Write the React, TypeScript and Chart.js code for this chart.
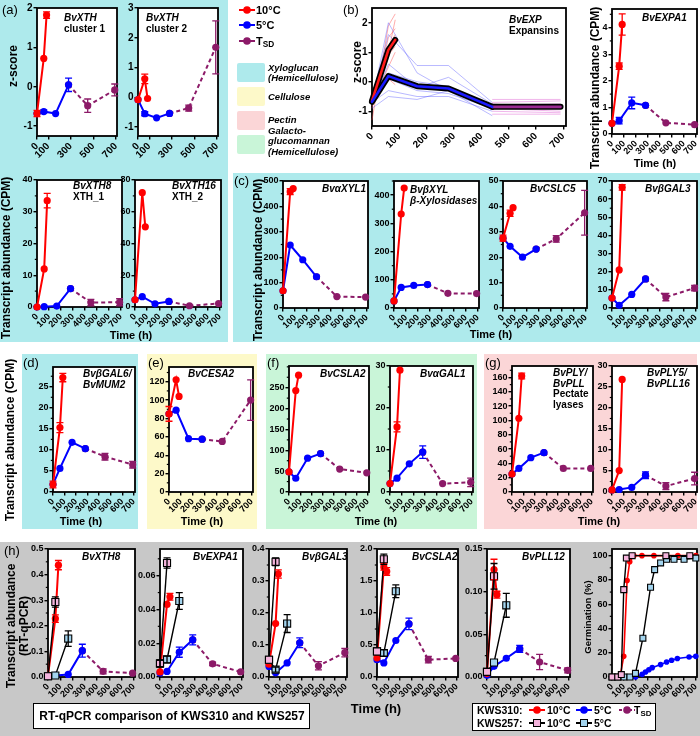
import React, { useEffect, useRef } from "react";
import { Chart, registerables } from "chart.js";
Chart.register(...registerables);

const FONT = '"Liberation Sans", Arial, Helvetica, sans-serif';
const CYAN = "#aeeaec", YEL = "#fdf9c9", GRN = "#c9f5d8", PNK = "#fbd6d7", GRY = "#c8c8c8";
const RED = "#ff0000", BLUE = "#0000ff", TSDC = "#8c1a68", PINKSQ = "#f4b4dc", LBSQ = "#a3d4ee";

// ---------- time points (h)
const T10 = [0, 60, 85];
const T5 = [0, 60, 165, 280];
const TSD = [280, 450, 690];
const K10 = [0, 60];
const K5 = [0, 60, 165];
const TB5 = [0, 60, 165, 280, 440];
const TBSD = [440, 690];

// ---------- tick labels
const XT = [0, 100, 200, 300, 400, 500, 600, 700];
const XT_A = [0, 100, 300, 500, 700];

// ---------- (a) z-scores
const a1R = [-0.68, 0.72, 1.82], a1Re = [0.08, 0, 0.08];
const a1B = [-0.68, -0.63, -0.68, 0.05], a1Be = [0, 0.04, 0, 0.17];
const a1S = [0.05, -0.48, -0.08], a1Se = [0, 0.17, 0.15];
const a2R = [-0.08, 0.62, -0.04], a2Re = [0, 0.16, 0];
const a2B = [-0.08, -0.55, -0.69, -0.54], a2Be = [0, 0.07, 0, 0];
const a2S = [-0.54, -0.36, 1.68], a2Se = [0, 0.1, 0.89];

// ---------- (b) expansins z-scores
const bRm = [-0.65, 1.08, 1.42];
const bBm = [-0.68, 0.19, -0.15, -0.23, -0.85];
const bSm = [-0.85, -0.85];
const bRgenes = [[-1.3, 1.9, 2.3], [-0.9, 1.5, 1.8], [-0.6, 1.2, 1.6], [-0.5, 0.9, 1.2], [-0.7, 0.5, 1.0], [-0.4, 0.1, -0.1], [-0.8, 1.0, 2.1]];
const bBgenes = [[-0.7, 2.0, 0.3, -0.3, -0.8], [-0.6, 1.6, 0.55, 0.55, -0.7], [-0.8, 0.6, -0.2, 0.15, -0.75], [-0.5, 0.1, -0.3, -0.4, -0.9], [-0.7, -0.3, -0.5, -0.5, -1.0], [-0.9, -0.5, -0.6, -0.3, -1.15], [-0.6, 0.3, 0.0, -0.15, -0.85]];
const bSgenes = [[-0.6, -0.6], [-0.7, -0.65], [-0.8, -0.75], [-0.9, -1.0], [-1.0, -1.05], [-1.1, -1.1], [-0.75, -0.9]];

// ---------- CPM
const eR = [0.4, 2.55, 4.12], eRe = [0, 0.12, 0.4];
const eB = [0.4, 0.5, 1.17, 1.08], eBe = [0, 0.12, 0.22, 0];
const eS = [1.08, 0.42, 0.35];
const x8R = [0, 12, 33.5], x8Re = [0, 0, 2.3];
const x8B = [0, 0.1, 0.3, 5.8];
const x8S = [5.8, 1.4, 1.5], x8Se = [0, 1, 1.1];
const x16R = [4.5, 72, 50.5];
const x16B = [4.5, 6.5, 2, 3.5];
const x16S = [3.5, 0.8, 2.2];
const c1R = [68, 458, 470], c1Re = [0, 12, 0];
const c1B = [68, 248, 190, 123];
const c1S = [123, 45, 43];
const c2R = [25, 333, 425];
const c2B = [25, 73, 80, 83];
const c2S = [83, 52, 51];
const c3R = [27.5, 37.3, 39.5], c3Re = [1.2, 1.2, 0];
const c3B = [27.5, 24.3, 20, 23.2];
const c3S = [23.2, 27.2, 37.5], c3Se = [0, 1.3, 8.8];
const c4R = [5.5, 21, 66.5], c4Re = [0, 0, 1.5];
const c4B = [5.5, 1.5, 7.5, 16];
const c4S = [16, 6, 11], c4Se = [0, 2, 1.5];
const dR = [1.8, 15.3, 27.2], dRe = [0.8, 1.2, 1];
const dB = [1.8, 5.6, 11.8, 10.3];
const dS = [10.3, 8.4, 6.5], dSe = [0, 0.8, 0.8];
const eCR = [85, 122, 104], eCRe = [8, 0, 0];
const eCB = [85, 89, 58, 57.5];
const eCS = [57.5, 55, 100], eCSe = [0, 0, 22];
const f1R = [48, 243, 280];
const f1B = [48, 33, 81, 92];
const f1S = [92, 55, 46];
const f2R = [2, 15.5, 29], f2Re = [0, 1.2, 0];
const f2B = [2, 3.3, 6.7, 9.5], f2Be = [0, 0, 0, 1.5];
const f2S = [9.5, 2, 2.3], f2Se = [0, 0, 1];
const g1R = [25, 103, 162], g1Re = [0, 0, 4];
const g1B = [25, 33, 48, 55];
const g1S = [55, 33, 33];
const g2R = [0.5, 5.1, 26.8];
const g2B = [0.5, 0.6, 1.1, 4], g2Be = [0, 0, 0, 0.8];
const g2S = [4, 1.4, 3.2], g2Se = [0, 0.8, 1.5];

// ---------- (h) RT-qPCR
const h1R = [0.005, 0.228, 0.437], h1Re = [0, 0.015, 0.018];
const h1B = [0.005, 0.006, 0.01, 0.103], h1Be = [0, 0, 0, 0.025];
const h1S = [0.103, 0.022, 0.015], h1Se = [0, 0.01, 0];
const h1P = [0.003, 0.293], h1Pe = [0, 0.02];
const h1C = [0.003, 0.006, 0.15], h1Ce = [0, 0, 0.03];
const h2R = [0.003, 0.043, 0.0475], h2Re = [0, 0, 0.002];
const h2B = [0.0024, 0.0033, 0.0147, 0.022], h2Be = [0, 0, 0.003, 0.003];
const h2S = [0.022, 0.0078, 0.003], h2Se = [0, 0.001, 0];
const h2P = [0.008, 0.0675], h2Pe = [0.002, 0.003];
const h2C = [0.008, 0.0104, 0.045], h2Ce = [0.002, 0.002, 0.005];
const h3R = [0.04, 0.167, 0.322], h3Re = [0, 0, 0.013];
const h3B = [0.033, 0.013, 0.044, 0.107], h3Be = [0, 0, 0, 0.015];
const h3S = [0.107, 0.035, 0.076], h3Se = [0, 0.013, 0.013];
const h3P = [0.054, 0.36], h3Pe = [0, 0.012];
const h3C = [0.054, 0.023, 0.167], h3Ce = [0, 0.008, 0.028];
const h4R = [0.3, 1.72, 1.65], h4Re = [0, 0.05, 0.06];
const h4B = [0.27, 0.22, 0.57, 0.83], h4Be = [0, 0, 0, 0.09];
const h4S = [0.83, 0.27, 0.29], h4Se = [0, 0.05, 0];
const h4P = [0.4, 1.84], h4Pe = [0, 0.08];
const h4C = [0.4, 0.375, 1.34], h4Ce = [0, 0.05, 0.1];
const h5R = [0.004, 0.126, 0.0965], h5Re = [0, 0.012, 0.004];
const h5B = [0.002, 0.0125, 0.022, 0.033], h5Be = [0, 0, 0, 0.004];
const h5S = [0.033, 0.0176, 0.0078], h5Se = [0, 0.009, 0.003];
const h5P = [0.006, 0.118], h5Pe = [0, 0.015];
const h5C = [0.006, 0.017, 0.084], h5Ce = [0, 0, 0.014];

// ---------- germination (%)
const gTR = [0, 48, 72, 98, 126, 148, 182, 250, 350, 550, 650, 700];
const gR = [0, 0, 2.8, 17, 79.5, 95, 100, 100, 100, 100, 100, 100];
const gTP = [0, 48, 78, 98, 120, 168, 450, 650];
const gP = [0, 0, 2, 72, 98, 100, 100, 100];
const gTC = [0, 48, 100, 150, 196, 258, 322, 356, 406, 456, 518, 602, 700];
const gC = [0, 0, 0, 0, 3, 32, 74, 88.5, 94, 97, 97, 97, 98];
const gTB = [0, 100, 196, 252, 280, 308, 336, 406, 456, 498, 546, 644, 700];
const gB = [0, 0, 0, 2.2, 4.1, 6, 7.7, 10.2, 12.4, 13.8, 15.2, 16.5, 17];

const r = (y: number[], e?: number[]) => ({ k: "r", x: T10, y, e });
const b = (y: number[], e?: number[]) => ({ k: "b", x: T5, y, e });
const s = (y: number[], e?: number[]) => ({ k: "s", x: TSD, y, e });
const p = (y: number[], e?: number[]) => ({ k: "p", x: K10, y, e });
const c = (y: number[], e?: number[]) => ({ k: "c", x: K5, y, e });
const rng = (a: number, z: number, st: number) => { const o: number[] = []; for (let v = a; v <= z + 1e-9; v += st) o.push(+v.toFixed(4)); return o; };

const CHARTS: any[] = [
  { L: 37, T: 8, R: 117, B: 136, y0: -1.25, y1: 2, yt: [-1, 0, 1, 2], xt: XT_A, f: 10, s: [s(a1S, a1Se), b(a1B, a1Be), r(a1R, a1Re)] },
  { L: 138, T: 8, R: 218, B: 136, y0: -1.3, y1: 3, yt: [-1, 0, 1, 2, 3], xt: XT_A, f: 10, s: [s(a2S, a2Se), b(a2B, a2Be), r(a2R, a2Re)] },
  {
    L: 372, T: 8, R: 566, B: 126, y0: -1.5, y1: 2.5, yt: [-1, 0, 1, 2], xt: XT, f: 10,
    s: [
      ...bBgenes.map((y) => ({ k: "bt", x: TB5, y })),
      ...bRgenes.map((y) => ({ k: "rt", x: T10, y })),
      ...bSgenes.map((y) => ({ k: "st", x: TBSD, y })),
      { k: "bm", x: TB5, y: bBm }, { k: "sm", x: TBSD, y: bSm }, { k: "rm", x: T10, y: bRm },
    ],
  },
  { L: 612, T: 9, R: 697, B: 134, y0: 0, y1: 4.7, yt: [0, 1, 2, 3, 4], minor: 0.5, xt: XT, s: [s(eS), b(eB, eBe), r(eR, eRe)] },
  { L: 37, T: 180, R: 122, B: 307, y0: 0, y1: 40, yt: rng(0, 40, 10), minor: 5, xt: XT, s: [s(x8S, x8Se), b(x8B), r(x8R, x8Re)] },
  { L: 135, T: 180, R: 221, B: 307, y0: 0, y1: 80, yt: rng(0, 80, 20), minor: 10, xt: XT, s: [s(x16S), b(x16B), r(x16R)] },
  { L: 283, T: 181, R: 368, B: 308, y0: 0, y1: 500, yt: rng(0, 500, 100), minor: 50, xt: XT, s: [s(c1S), b(c1B), r(c1R, c1Re)] },
  { L: 394, T: 181, R: 479, B: 308, y0: 0, y1: 450, yt: rng(0, 400, 100), minor: 50, xt: XT, s: [s(c2S), b(c2B), r(c2R)] },
  { L: 503, T: 181, R: 587, B: 308, y0: 0, y1: 50, yt: rng(0, 50, 10), minor: 5, xt: XT, s: [s(c3S, c3Se), b(c3B), r(c3R, c3Re)] },
  { L: 612, T: 181, R: 697, B: 308, y0: 0, y1: 70, yt: rng(0, 70, 10), minor: 5, xt: XT, s: [s(c4S, c4Se), b(c4B), r(c4R, c4Re)] },
  { L: 53, T: 367, R: 135, B: 492, y0: 0, y1: 29.7, yt: rng(0, 25, 5), minor: 2.5, xt: XT, s: [s(dS, dSe), b(dB), r(dR, dRe)] },
  { L: 169, T: 367, R: 253, B: 492, y0: 0, y1: 136, yt: rng(0, 120, 20), minor: 10, xt: XT, s: [s(eCS, eCSe), b(eCB), r(eCR, eCRe)] },
  { L: 289, T: 366, R: 369, B: 492, y0: 0, y1: 302, yt: rng(0, 250, 50), minor: 25, xt: XT, s: [s(f1S), b(f1B), r(f1R)] },
  { L: 390, T: 366, R: 473, B: 492, y0: 0, y1: 30, yt: rng(0, 30, 10), minor: 5, xt: XT, s: [s(f2S, f2Se), b(f2B, f2Be), r(f2R, f2Re)] },
  { L: 512, T: 366, R: 593, B: 492, y0: 0, y1: 176, yt: rng(0, 160, 20), minor: 10, xt: XT, s: [s(g1S), b(g1B), r(g1R, g1Re)] },
  { L: 612, T: 366, R: 697, B: 492, y0: 0, y1: 30, yt: rng(0, 30, 5), minor: 2.5, xt: XT, s: [s(g2S, g2Se), b(g2B, g2Be), r(g2R)] },
  { L: 48, T: 549, R: 135, B: 677, y0: 0, y1: 0.5, yt: rng(0, 0.5, 0.1), dec: 1, minor: 0.05, xt: XT, s: [s(h1S, h1Se), b(h1B, h1Be), r(h1R, h1Re), c(h1C, h1Ce), p(h1P, h1Pe)] },
  { L: 160, T: 549, R: 243, B: 677, y0: 0, y1: 0.0758, yt: rng(0, 0.06, 0.02), dec: 2, minor: 0.01, xt: XT, s: [s(h2S, h2Se), b(h2B, h2Be), r(h2R, h2Re), c(h2C, h2Ce), p(h2P, h2Pe)] },
  { L: 269, T: 549, R: 347, B: 677, y0: 0, y1: 0.4, yt: rng(0, 0.4, 0.1), dec: 1, minor: 0.05, xt: XT, s: [s(h3S, h3Se), b(h3B, h3Be), r(h3R, h3Re), c(h3C, h3Ce), p(h3P, h3Pe)] },
  { L: 377, T: 549, R: 458, B: 677, y0: 0, y1: 2, yt: rng(0, 2, 0.5), dec: 1, minor: 0.25, xt: XT, s: [s(h4S, h4Se), b(h4B, h4Be), r(h4R, h4Re), c(h4C, h4Ce), p(h4P, h4Pe)] },
  { L: 487, T: 549, R: 570, B: 677, y0: 0, y1: 0.15, yt: rng(0, 0.15, 0.05), dec: 2, minor: 0.025, xt: XT, s: [s(h5S, h5Se), b(h5B, h5Be), r(h5R, h5Re), c(h5C, h5Ce), p(h5P, h5Pe)] },
  {
    L: 612, T: 549, R: 697, B: 677, y0: 0, y1: 105.5, yt: rng(0, 100, 20), minor: 10, xt: XT, small: true,
    s: [{ k: "b", x: gTB, y: gB }, { k: "c", x: gTC, y: gC }, { k: "r", x: gTR, y: gR }, { k: "p", x: gTP, y: gP }],
  },
];

const YW = 30, PT = 8, PR = 12, XH = 30, XMAX = 710;

function toDatasets(se: any, small: boolean) {
  const data = se.x.map((x: number, i: number) => ({ x, y: se.y[i] }));
  const base: any = { data, clip: false, tension: 0, errs: se.e, pointHoverRadius: 0 };
  const k = se.k;
  if (k === "r" || k === "b" || k === "s") {
    const col = k === "r" ? RED : k === "b" ? BLUE : TSDC;
    return [{
      ...base, borderColor: col, backgroundColor: col, pointBackgroundColor: col, pointBorderColor: col,
      pointBorderWidth: 0, pointRadius: small ? 2.8 : 3.6, borderWidth: small ? 1.6 : 2,
      borderDash: k === "s" ? [4, 3] : [], errColor: col, order: k === "r" ? 2 : k === "b" ? 3 : 4,
    }];
  }
  if (k === "p" || k === "c") {
    const fill = k === "p" ? PINKSQ : LBSQ;
    return [{
      ...base, borderColor: "#000", backgroundColor: fill, pointBackgroundColor: fill, pointBorderColor: "#000",
      pointBorderWidth: 1.1, pointStyle: "rect", pointRadius: small ? 4.2 : 5, borderWidth: 1.4, errColor: "#000", order: k === "p" ? 0 : 1,
    }];
  }
  if (k === "rt" || k === "bt" || k === "st") {
    const col = k === "rt" ? "rgba(255,70,70,0.45)" : k === "bt" ? "rgba(80,80,255,0.4)" : "rgba(225,110,215,0.5)";
    return [{ ...base, borderColor: col, borderWidth: 1, pointRadius: 0, order: 10 }];
  }
  const col = k === "rm" ? "#ff1a1a" : k === "bm" ? "#1a1aff" : "#9a2a92";
  return [
    { ...base, borderColor: "#000", borderWidth: 6, pointRadius: 0, order: 6, borderCapStyle: "round", borderJoinStyle: "round" },
    { ...base, borderColor: col, borderWidth: 2.6, pointRadius: 0, order: 5, borderCapStyle: "round", borderJoinStyle: "round" },
  ];
}

function Mini({ spec }: { spec: any }) {
  const ref = useRef<HTMLCanvasElement>(null);
  const w = YW + spec.R - spec.L + PR;
  const h = PT + spec.B - spec.T + XH;
  useEffect(() => {
    const datasets = spec.s.flatMap((se: any) => toDatasets(se, !!spec.small));
    const dec = spec.dec || 0;
    const plug = {
      id: "frameErr",
      beforeDraw(ch: any) {
        const a = ch.chartArea, ctx = ch.ctx;
        ctx.save(); ctx.fillStyle = "#fff"; ctx.fillRect(a.left, a.top, a.right - a.left, a.bottom - a.top); ctx.restore();
      },
      beforeDatasetsDraw(ch: any) {
        const a = ch.chartArea, ctx = ch.ctx, ys = ch.scales.y;
        ctx.save();
        ctx.strokeStyle = "#000"; ctx.lineWidth = 1.8;
        ctx.strokeRect(a.left, a.top, a.right - a.left, a.bottom - a.top);
        if (spec.minor) {
          ctx.lineWidth = 1.2;
          const mj = spec.yt;
          for (let v = spec.y0; v <= spec.y1 + 1e-9; v += spec.minor) {
            if (mj.some((m: number) => Math.abs(m - v) < 1e-7)) continue;
            const y = ys.getPixelForValue(v);
            ctx.beginPath(); ctx.moveTo(a.left - 2.2, y); ctx.lineTo(a.left, y); ctx.stroke();
          }
        }
        ctx.restore();
      },
      afterDatasetsDraw(ch: any) {
        const ctx = ch.ctx, ys = ch.scales.y;
        ch.data.datasets.forEach((ds: any, i: number) => {
          if (!ds.errs) return;
          const meta = ch.getDatasetMeta(i);
          ctx.save(); ctx.strokeStyle = ds.errColor; ctx.lineWidth = 1.3;
          meta.data.forEach((pt: any, j: number) => {
            const e = ds.errs[j]; if (!e) return;
            const v = ds.data[j].y;
            const y1 = ys.getPixelForValue(v + e), y2 = ys.getPixelForValue(v - e);
            ctx.beginPath();
            ctx.moveTo(pt.x, y1); ctx.lineTo(pt.x, y2);
            ctx.moveTo(pt.x - 3.5, y1); ctx.lineTo(pt.x + 3.5, y1);
            ctx.moveTo(pt.x - 3.5, y2); ctx.lineTo(pt.x + 3.5, y2);
            ctx.stroke();
          });
          ctx.restore();
        });
      },
    };
    const grid = { display: true, drawOnChartArea: false, drawTicks: true, tickLength: 3.5, color: "#000", tickColor: "#000", tickWidth: 1.4, lineWidth: 1.4 };
    const font = { family: FONT, size: spec.f || 9, weight: "bold" };
    const chart = new Chart(ref.current as any, {
      type: "line",
      data: { datasets },
      options: {
        animation: false, responsive: false, events: [],
        layout: { padding: { left: 0, top: PT, right: PR, bottom: 0 } },
        plugins: { legend: { display: false }, tooltip: { enabled: false } },
        scales: {
          x: {
            type: "linear", min: 0, max: XMAX,
            afterBuildTicks: (ax: any) => { ax.ticks = spec.xt.map((v: number) => ({ value: v })); },
            afterFit: (ax: any) => { ax.height = XH; },
            ticks: { autoSkip: false, minRotation: 45, maxRotation: 45, padding: 1, color: "#000", font, callback: (v: any) => String(v) },
            grid, border: { display: false },
          },
          y: {
            type: "linear", min: spec.y0, max: spec.y1,
            afterBuildTicks: (ax: any) => { ax.ticks = spec.yt.map((v: number) => ({ value: v })); },
            afterFit: (ax: any) => { ax.width = YW; },
            ticks: { autoSkip: false, padding: 1, color: "#000", font, callback: (v: any) => Number(v).toFixed(dec) },
            grid, border: { display: false },
          },
        },
      } as any,
      plugins: [plug as any],
    });
    return () => chart.destroy();
  }, []);
  return <canvas ref={ref} width={w} height={h} style={{ position: "absolute", left: spec.L - YW, top: spec.T - PT, width: w, height: h }} />;
}

function Tx({ x, y, size = 11, bold = true, it = false, children }: any) {
  return <div style={{ position: "absolute", left: x, top: y - size / 2 - 1, fontSize: size, lineHeight: size + 2 + "px", fontWeight: bold ? "bold" : "normal", fontStyle: it ? "italic" : "normal", whiteSpace: "nowrap" }}>{children}</div>;
}
function CTx({ cx, cy, size = 12, rot = false, children, lh }: any) {
  return <div style={{ position: "absolute", left: cx, top: cy, transform: `translate(-50%,-50%)${rot ? " rotate(-90deg)" : ""}`, fontSize: size, lineHeight: (lh || size + 2) + "px", fontWeight: "bold", whiteSpace: "nowrap", textAlign: "center" }}>{children}</div>;
}
function Mark({ x, yc, col, dash, sq, fill }: any) {
  return (
    <svg style={{ position: "absolute", left: x, top: yc - 6 }} width={16} height={12}>
      <line x1={0} y1={6} x2={16} y2={6} stroke={sq ? "#000" : col} strokeWidth={2} strokeDasharray={dash ? "3 2" : undefined} />
      {sq ? <rect x={4.5} y={2.5} width={7} height={7} fill={fill} stroke="#000" strokeWidth={1} /> : <circle cx={8} cy={6} r={3.8} fill={col} />}
    </svg>
  );
}

const TITLES: any[] = [
  [64, 18, [["BvXTH", 1], ["cluster 1", 0]]],
  [146, 18, [["BvXTH", 1], ["cluster 2", 0]]],
  [509, 20, [["BvEXP", 1], ["Expansins", 0]]],
  [642, 18, [["BvEXPA1", 1]]],
  [73, 186, [["BvXTH8", 1], ["XTH_1", 0]]],
  [172, 186, [["BvXTH16", 1], ["XTH_2", 0]]],
  [322, 189, [["BvαXYL1", 1]]],
  [410, 190, [["BvβXYL", 1], ["β-Xylosidases", 1]]],
  [530, 189, [["BvCSLC5", 1]]],
  [645, 189, [["BvβGAL3", 1]]],
  [83, 374, [["BvβGAL6/", 1], ["BvMUM2", 1]]],
  [188, 374, [["BvCESA2", 1]]],
  [320, 374, [["BvCSLA2", 1]]],
  [420, 374, [["BvαGAL1", 1]]],
  [553, 373, [["BvPLY/", 1], ["BvPLL", 1], ["Pectate", 0], ["lyases", 0]]],
  [647, 373, [["BvPLY5/", 1], ["BvPLL16", 1]]],
  [82, 557, [["BvXTH8", 1]]],
  [193, 557, [["BvEXPA1", 1]]],
  [302, 557, [["BvβGAL3", 1]]],
  [412, 557, [["BvCSLA2", 1]]],
  [522, 557, [["BvPLL12", 1]]],
];

const BOXES: any[] = [
  [0, 0, 228, 342, CYAN], [233, 173, 467, 169, CYAN], [22, 354, 116, 175, CYAN], [147, 354, 110, 175, YEL],
  [266, 354, 211, 175, GRN], [484, 354, 213, 175, PNK], [0, 542, 700, 194, GRY],
];

export default function App() {
  const Sub = () => <span>T<sub style={{ fontSize: "0.75em", verticalAlign: "-0.25em" }}>SD</sub></span>;
  return (
    <div style={{ position: "absolute", left: 0, top: 0, width: 700, height: 736, overflow: "hidden", background: "#fff", fontFamily: FONT, color: "#000" }}>
      {BOXES.map((bx, i) => <div key={i} style={{ position: "absolute", left: bx[0], top: bx[1], width: bx[2], height: bx[3], background: bx[4] }} />)}
      {CHARTS.map((sp, i) => <Mini key={i} spec={sp} />)}
      {TITLES.map((t, i) => t[2].map((ln: any, j: number) => <Tx key={i + "-" + j} x={t[0]} y={t[1] + j * 10.5} size={10} it={!!ln[1]}>{ln[0]}</Tx>))}

      {[["(a)", 2, 9], ["(b)", 343, 9], ["(c)", 234, 180], ["(d)", 23, 362], ["(e)", 148, 362], ["(f)", 267, 362], ["(g)", 485, 362], ["(h)", 4, 550]].map((l: any) => (
        <Tx key={l[0]} x={l[1]} y={l[2]} size={13} bold={false}>{l[0]}</Tx>
      ))}

      <CTx cx={13} cy={66} rot>z-score</CTx>
      <CTx cx={357} cy={62} rot>z-score</CTx>
      <CTx cx={595} cy={88} rot>Transcript abundance (CPM)</CTx>
      <CTx cx={6} cy={258} rot>Transcript abundance (CPM)</CTx>
      <CTx cx={258} cy={260} rot>Transcript abundance (CPM)</CTx>
      <CTx cx={10} cy={440} rot>Transcript abundance (CPM)</CTx>
      <CTx cx={18} cy={626} rot lh={13}>Transcript abundance<br />(RT-qPCR)</CTx>
      <CTx cx={588} cy={617} rot size={9.5}>Germination (%)</CTx>
      <CTx cx={655} cy={163} size={11}>Time (h)</CTx>
      <CTx cx={131} cy={335} size={11}>Time (h)</CTx>
      <CTx cx={491} cy={334} size={11}>Time (h)</CTx>
      <CTx cx={81} cy={521} size={11}>Time (h)</CTx>
      <CTx cx={202} cy={521} size={11}>Time (h)</CTx>
      <CTx cx={376} cy={521} size={11}>Time (h)</CTx>
      <CTx cx={599} cy={521} size={11}>Time (h)</CTx>
      <CTx cx={376} cy={708} size={13}>Time (h)</CTx>

      <Mark x={239} yc={10} col={RED} /><Tx x={256} y={10}>10°C</Tx>
      <Mark x={239} yc={25} col={BLUE} /><Tx x={256} y={25}>5°C</Tx>
      <Mark x={239} yc={41} col={TSDC} /><Tx x={256} y={41}><Sub /></Tx>

      {[[63, CYAN], [87, YEL], [111, PNK], [135, GRN]].map((k: any, i) => (
        <div key={i} style={{ position: "absolute", left: 237, top: k[0], width: 28, height: 19, background: k[1], borderRadius: 2 }} />
      ))}
      <Tx x={268} y={68} size={9.5} it>Xyloglucan</Tx>
      <Tx x={268} y={78} size={9.5} it>(Hemicellulose)</Tx>
      <Tx x={268} y={97} size={9.5} it>Cellulose</Tx>
      <Tx x={268} y={120} size={9.5} it>Pectin</Tx>
      <Tx x={268} y={131} size={9.5} it>Galacto-</Tx>
      <Tx x={268} y={141} size={9.5} it>glucomannan</Tx>
      <Tx x={268} y={152} size={9.5} it>(Hemicellulose)</Tx>

      <div style={{ position: "absolute", left: 33, top: 703, width: 275, height: 24, background: "#fff", border: "1.5px solid #000" }} />
      <CTx cx={172} cy={716} size={12}>RT-qPCR comparison of KWS310 and KWS257</CTx>
      <div style={{ position: "absolute", left: 472, top: 703, width: 182, height: 26, background: "#fff", border: "1.5px solid #000" }} />
      <Tx x={477} y={710} size={10.5}>KWS310:</Tx>
      <Tx x={477} y={723} size={10.5}>KWS257:</Tx>
      <Mark x={529} yc={710} col={RED} /><Tx x={547} y={710} size={10.5}>10°C</Tx>
      <Mark x={576} yc={710} col={BLUE} /><Tx x={594} y={710} size={10.5}>5°C</Tx>
      <Mark x={619} yc={710} col={TSDC} dash /><Tx x={634} y={710} size={10.5}><Sub /></Tx>
      <Mark x={529} yc={723} sq fill={PINKSQ} /><Tx x={547} y={723} size={10.5}>10°C</Tx>
      <Mark x={576} yc={723} sq fill={LBSQ} /><Tx x={594} y={723} size={10.5}>5°C</Tx>
    </div>
  );
}
